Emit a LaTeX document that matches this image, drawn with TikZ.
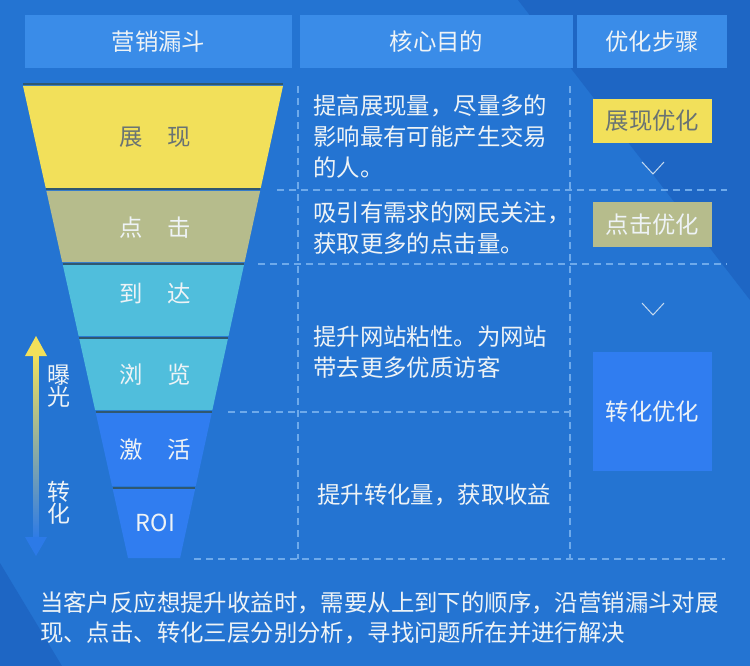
\documentclass[tikz,border=0pt]{standalone}
\usepackage{fontspec}
\setmainfont{Noto Sans CJK SC}
\definecolor{bgblue}{RGB}{36,116,210}
\definecolor{bgdark}{RGB}{30,102,196}
\definecolor{headblue}{RGB}{58,140,232}
\definecolor{fyellow}{RGB}{242,224,90}
\definecolor{folive}{RGB}{182,188,140}
\definecolor{fcyan}{RGB}{80,190,220}
\definecolor{fblue}{RGB}{48,125,240}
\definecolor{txt}{RGB}{238,243,246}
\definecolor{greytxt}{RGB}{105,115,115}
\definecolor{dashblue}{RGB}{110,170,235}
\definecolor{sepgrey}{RGB}{48,88,112}
\usetikzlibrary{positioning}

\begin{document}
\begin{tikzpicture}[x=1pt, y=-1pt,
  every node/.style={inner sep=0pt, text=txt, font=\fontsize{23.4}{31}\selectfont},
  head/.style={fill=headblue, minimum height=53pt},
  grid/.style={draw=dashblue, line width=1.3pt, dash pattern=on 7pt off 5pt},
  sepline/.style={draw=sepgrey, line width=2pt},
  optbox/.style={minimum width=119pt},
  chev/.style={draw=txt!80!bgblue, line width=1pt}]

% background
\fill[bgblue] (0,0) rectangle (750,666);
\fill[bgdark] (518,0) -- (750,0) -- (750,300) -- cycle;
\fill[bgdark] (0,563) -- (62,666) -- (0,666) -- cycle;

% headers
\node[head, minimum width=267pt] (h1) at (158.5,41.5) {营销漏斗};
\node[head, minimum width=273pt] (h2) at (436.5,41.5) {核心目的};
\node[head, minimum width=150pt] (h3) at (652,41.5) {优化步骤};

% funnel
\foreach \i/\ya/\yb/\ty/\col/\tc/\lab in {
  1/86/188/137/fyellow/greytxt/{展\hspace{25pt}现},
  2/191/262/228/folive/txt/{点\hspace{25pt}击},
  3/265/336/293/fcyan/txt/{到\hspace{25pt}达},
  4/339/410/375/fcyan/txt/{浏\hspace{25pt}览},
  5/413/486/450/fblue/txt/{激\hspace{25pt}活},
  6/489/558/523/fblue/txt/{ROI}}{
  \pgfmathsetmacro\la{23+0.2225*(\ya-86)}
  \pgfmathsetmacro\lb{23+0.2225*(\yb-86)}
  \pgfmathsetmacro\ra{283-0.218*(\ya-86)}
  \pgfmathsetmacro\rb{283-0.218*(\yb-86)}
  \fill[\col] (\la,\ya) -- (\ra,\ya) -- (\rb,\yb) -- (\lb,\yb) -- cycle;
  \draw[sepline] (\la,\ya-1.5) -- (\ra,\ya-1.5);
  \node[text=\tc] (f\i) at (155.5,\ty) {\lab};
}

% side arrow
\shade[top color=fyellow, bottom color=fblue!70!bgblue] (33.5,354) rectangle (38.5,539);
\fill[fyellow] (25,356) -- (36,336) -- (47,356) -- cycle;
\fill[fblue!70!bgblue] (25,537) -- (36,556) -- (47,537) -- cycle;
\node[align=center, font=\fontsize{23}{22}\selectfont] (up) at (58.5,386) {曝\\光};
\node[align=center, font=\fontsize{23}{22}\selectfont] (down) at (58.5,503) {转\\化};

% dashed grid
\draw[grid] (298,86) -- (298,559);
\draw[grid] (570,86) -- (570,559);
\draw[grid] (277,190) -- (727,190);
\draw[grid] (258,264) -- (727,264);
\draw[grid] (228,412) -- (570,412);
\draw[grid] (194,559) -- (725,559);

% aims
\node[anchor=west, align=left] (a1) at (313,137) {提高展现量，尽量多的\\影响最有可能产生交易\\的人。};
\node[anchor=west, align=left] (a2) at (313,228) {吸引有需求的网民关注，\\获取更多的点击量。};
\node[anchor=west, align=left] (a3) at (313,352) {提升网站粘性。为网站\\带去更多优质访客};
\node[anchor=west, align=left] (a4) at (317,495) {提升转化量，获取收益};

% steps
\node[optbox, fill=fyellow, text=greytxt, minimum height=44pt] (b1) at (652.5,121) {展现优化};
\node[optbox, fill=folive, minimum height=45pt] (b2) at (652.5,224.5) {点击优化};
\node[optbox, fill=fblue, minimum height=119pt] (b3) at (652.5,411.5) {转化优化};
\draw[chev] (642,162) -- (653,174) -- (664,162);
\draw[chev] (642,303) -- (653,315) -- (664,303);

% note
\node[anchor=west, align=left, font=\fontsize{23.4}{30}\selectfont] (note) at (40,618)
  {当客户反应想提升收益时，需要从上到下的顺序，沿营销漏斗对展\\现、点击、转化三层分别分析，寻找问题所在并进行解决};

\end{tikzpicture}
\end{document}
